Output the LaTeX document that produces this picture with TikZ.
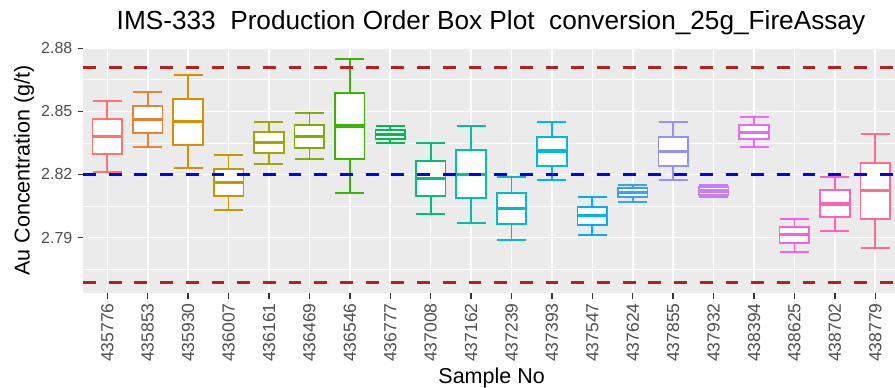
\documentclass[tikz,border=0pt]{standalone}
\usepackage{fontspec}
\setmainfont{Liberation Sans}
\definecolor{panelgray}{HTML}{EBEBEB}
\definecolor{ticktext}{HTML}{4D4D4D}
\definecolor{tickmark}{HTML}{333333}
\definecolor{limred}{HTML}{B22222}
\definecolor{targetblue}{HTML}{0000FF}
% ggplot hue palette, 20 levels
\definecolor{c1}{HTML}{F8766D}
\definecolor{c2}{HTML}{EA8331}
\definecolor{c3}{HTML}{D89000}
\definecolor{c4}{HTML}{C09B00}
\definecolor{c5}{HTML}{A3A500}
\definecolor{c6}{HTML}{7CAE00}
\definecolor{c7}{HTML}{39B600}
\definecolor{c8}{HTML}{00BB4E}
\definecolor{c9}{HTML}{00BF7D}
\definecolor{c10}{HTML}{00C1A3}
\definecolor{c11}{HTML}{00BFC4}
\definecolor{c12}{HTML}{00BAE0}
\definecolor{c13}{HTML}{00B0F6}
\definecolor{c14}{HTML}{35A2FF}
\definecolor{c15}{HTML}{9590FF}
\definecolor{c16}{HTML}{C77CFF}
\definecolor{c17}{HTML}{E76BF3}
\definecolor{c18}{HTML}{FA62DB}
\definecolor{c19}{HTML}{FF62BC}
\definecolor{c20}{HTML}{FF6C91}
\begin{document}
\begin{tikzpicture}[x=1pt,y=-1pt,
  majorgrid/.style={white,line width=1.6pt},
  minorgrid/.style={white,line width=0.8pt},
  refline/.style={line width=3pt,dash pattern=on 12.8pt off 12.9pt},
  whisker/.style={line width=1.7pt},
  boxbody/.style={line width=1.7pt,fill=white},
  medianline/.style={line width=3.2pt},
  tickline/.style={tickmark,line width=1.4pt},
  ylab/.style={font=\fontsize{16}{16}\selectfont,text=ticktext,anchor=east,inner sep=0pt},
  xlab/.style={font=\fontsize{17.5}{17.5}\selectfont,text=ticktext,rotate=90,anchor=east,inner sep=0pt},
  axistitle/.style={font=\fontsize{21.5}{21.5}\selectfont,inner sep=0pt,anchor=base},
  plottitle/.style={font=\fontsize{26.2}{26.2}\selectfont,inner sep=0pt,anchor=base}]
\useasboundingbox (0,0) rectangle (895,388);

\begin{scope}
  \clip (83,47.8) rectangle (895,293.3);
  % panel background
  \fill[panelgray] (83,47.8) rectangle (900,293.3);
  % minor horizontal grid
  \foreach \yy in {79.83,142.9,205.97,269.04}
    \draw[minorgrid] (83,\yy) -- (900,\yy);
  % major horizontal grid
  \foreach \yy in {48.3,111.37,174.44,237.51}
    \draw[majorgrid] (83,\yy) -- (900,\yy);
  % major vertical grid, one per sample
  \foreach \i in {1,...,20}
    \draw[majorgrid] ({107.3+(\i-1)*40.42},47.8) -- ({107.3+(\i-1)*40.42},293.3);

  % box plots: index / upper cap / Q3 / median / Q1 / lower cap
  \foreach \i/\hi/\qt/\md/\qb/\lo in {
      1/100.7/119/136.7/154.3/172,
      2/92.3/106/119.3/132.7/147,
      3/75/99/121.7/144.7/167.7,
      4/155.3/169/182.7/196/210,
      5/121.7/132/142.7/153/164,
      6/113.3/125.3/136.7/148/159.3,
      7/59/92.7/126/159.3/193.3,
      8/126/130.3/134.7/138.7/143,
      9/142.7/160.7/178.7/196/214,
      10/126/150/174.3/198/222.7,
      11/176.7/192.7/208.3/223.7/239.7,
      12/121.7/136.7/151/165.7/180.3,
      13/197.3/207/215.7/225.3/235.3,
      14/184.7/188/192.3/197/202,
      15/121.7/137/151.3/165.7/180.3,
      16/184.7/187.3/191/194.7/197.3,
      17/117.3/125/132.3/139.3/147,
      18/218.7/227/234.3/242.7/252,
      19/176.7/190/204/217.3/231,
      20/134.3/163.3/190.7/219.3/248}{
    \pgfmathsetmacro{\xc}{107.3+(\i-1)*40.42}
    \draw[whisker,draw=c\i] (\xc,\hi) -- (\xc,\lo);
    \draw[whisker,draw=c\i] (\xc-14.5,\hi) -- (\xc+14.5,\hi);
    \draw[whisker,draw=c\i] (\xc-14.5,\lo) -- (\xc+14.5,\lo);
    \draw[boxbody,draw=c\i] (\xc-14.8,\qt) rectangle (\xc+14.8,\qb);
    \draw[medianline,draw=c\i] (\xc-14.8,\md) -- (\xc+14.8,\md);
  }

  % control limits and target
  \draw[refline,limred] (83,67.3) -- (900,67.3);
  \draw[refline,limred] (83,282) -- (900,282);
  \draw[refline,targetblue] (83,174.44) -- (900,174.44);
\end{scope}

% y axis ticks and labels
\foreach \yy/\lab [count=\k] in {48.3/2.88,111.37/2.85,174.44/2.82,237.51/2.79}{
  \draw[tickline] (77.5,\yy) -- (83,\yy);
  \node[ylab] (ytick\k) at (72.5,\yy) {\lab};
}

% x axis ticks and labels
\foreach \lab [count=\i] in {435776,435853,435930,436007,436161,436469,436546,436777,437008,437162,437239,437393,437547,437624,437855,437932,438394,438625,438702,438779}{
  \pgfmathsetmacro{\xc}{107.3+(\i-1)*40.42}
  \draw[tickline] (\xc,293.3) -- (\xc,298.8);
  \node[xlab] (xtick\i) at (\xc,303.3) {\lab};
}

% titles
\node[plottitle] (title) at (491,30) {IMS-333\ \ Production Order Box Plot\ \ conversion\_25g\_FireAssay};
\node[axistitle] (xtitle) at (491.6,383.3) {Sample No};
\node[axistitle,rotate=90] (ytitle) at (29.5,170.5) {Au Concentration (g/t)};
\end{tikzpicture}
\end{document}
